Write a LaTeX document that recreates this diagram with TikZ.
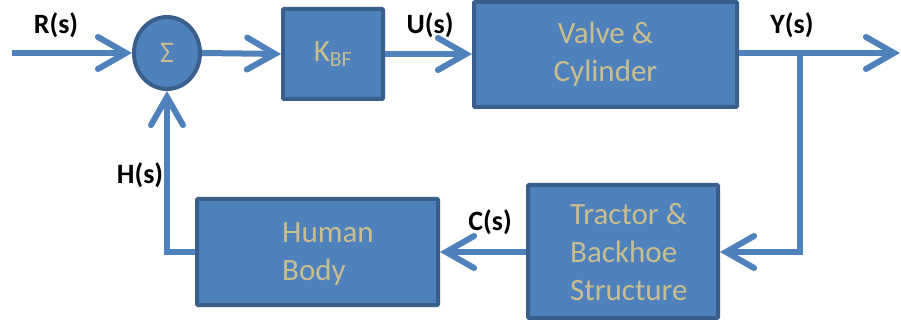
\documentclass[tikz,border=0pt]{standalone}
\usepackage{fontspec}
\setmainfont{Carlito}
\usetikzlibrary{arrows.meta,shapes.geometric}
\definecolor{lineblue}{HTML}{4F81BD}
\definecolor{boxfill}{HTML}{4F81BD}
\definecolor{boxedge}{HTML}{3A5F8C}
\definecolor{tan}{HTML}{C9BE8E}
\tikzset{
  blk/.style={draw=boxedge, fill=boxfill, line width=4pt, rounded corners=1pt, text=tan,
    font=\fontsize{31}{38}\selectfont, inner sep=0pt},
  sig/.style={draw=lineblue, line width=6pt, line cap=butt,
    -{Straight Barb[length=28pt,width=32pt,line cap=round]}},
  lbl/.style={font=\fontsize{28}{30}\selectfont\bfseries, text=black, inner sep=0pt}
}
\begin{document}
\begin{tikzpicture}[x=1pt,y=-1pt]
\useasboundingbox (0,0) rectangle (901,320);
% blocks
\node[blk, ellipse, minimum width=66pt, minimum height=72pt] (sum) at (167,53) {\fontsize{30}{30}\selectfont Σ};
\node[blk, minimum width=100pt, minimum height=90pt] (kbf) at (333,54) {K\textsubscript{BF}};
\node[blk, minimum width=263pt, minimum height=105pt, align=center] (valve) at (605.5,54.5) {Valve \&\\Cylinder};
\node[blk, minimum width=190pt, minimum height=133pt] (tractor) at (623,251.5) {};
\node[blk, minimum width=241pt, minimum height=106pt] (human) at (317.5,252) {};
\node[text=tan, font=\fontsize{31}{38}\selectfont, align=left, anchor=west, inner sep=0pt] (ttxt) at (570,252) {Tractor \&\\Backhoe\\Structure};
\node[text=tan, font=\fontsize{31}{38}\selectfont, align=left, anchor=west, inner sep=0pt] (htxt) at (282,254) {Human\\Body};
% coordinates
\coordinate (in) at (12,53);
\coordinate (out) at (900,53);
\coordinate (br) at (800,53);
\coordinate (brd) at (800,252);
\coordinate (hc) at (167,252);
% connectors
\draw[sig] (in) -- (sum.west);
\draw[sig] (sum.east) -- (kbf.west);
\draw[sig] (kbf.east) -- (kbf.east -| valve.west);
\draw[sig] (valve.east |- out) -- (out);
\draw[sig] (br) -- (brd) -- (brd -| tractor.east);
\draw[sig] (tractor.west |- brd) -- (human.east |- brd);
\draw[sig] (human.west |- hc) -- (hc) -- (sum.south);
% labels
\node[lbl] (rs) at (56,25) {R(s)};
\node[lbl] (us) at (430,25) {U(s)};
\node[lbl] (ys) at (792,25) {Y(s)};
\node[lbl] (hs) at (140,175) {H(s)};
\node[lbl] (cs) at (490,222) {C(s)};
\end{tikzpicture}
\end{document}
